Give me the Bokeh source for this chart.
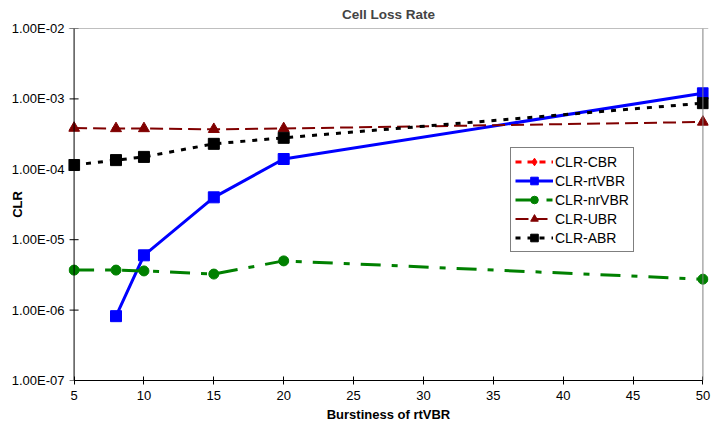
import math
from bokeh.plotting import figure
from bokeh.models import (Range1d, FixedTicker, CustomJSTickFormatter, Legend, Span)
from bokeh.embed import file_html
from bokeh.resources import INLINE

# ---- data ----
burstiness = [5, 8, 10, 15, 20, 50]
clr_cbr = [0, 0, 0, 0, 0, 0]
clr_rtvbr = [None, 8.2e-7, 6.0e-6, 4.0e-5, 1.4e-4, 1.2e-3]
clr_nrvbr = [3.7e-6, 3.7e-6, 3.6e-6, 3.25e-6, 5.0e-6, 2.75e-6]
clr_ubr = [3.85e-4, 3.8e-4, 3.8e-4, 3.7e-4, 3.8e-4, 4.7e-4]
clr_abr = [1.15e-4, 1.35e-4, 1.5e-4, 2.3e-4, 2.8e-4, 8.7e-4]
x_ticks = [5, 10, 15, 20, 25, 30, 35, 40, 45, 50]
y_ticks = [1e-7, 1e-6, 1e-5, 1e-4, 1e-3, 1e-2]
x_min, x_max = 5, 50
y_min, y_max = 1e-7, 1e-2

FONT = "Liberation Sans"


def clean(vals):
    return [float("nan") if (v is None or v <= 0) else v for v in vals]


p = figure(width=713, height=427, output_backend="svg", toolbar_location=None,
           y_axis_type="log",
           x_range=Range1d(x_min - 0.4, x_max + 0.4), y_range=Range1d(y_min, y_max),
           frame_width=640, frame_height=352,
           min_border_left=68, min_border_right=5, min_border_top=28, min_border_bottom=47,
           title="Cell Loss Rate")
p.outline_line_color = None
p.xgrid.visible = False
p.ygrid.visible = False
p.background_fill_color = "white"
p.border_fill_color = "white"

p.title.align = "center"
p.title.vertical_align = "top"
p.title.text_font = FONT
p.title.text_font_size = "13.5px"
p.title.text_font_style = "bold"
p.title.offset = 0
p.title.standoff = 10

# frame lines (top/right grey)
p.add_layout(Span(location=x_max, dimension="height", line_color="#808080", line_width=1))
p.add_layout(Span(location=y_max, dimension="width", line_color="#808080", line_width=1))

# axes
xa = p.xaxis[0]
xa.ticker = FixedTicker(ticks=x_ticks)
xa.bounds = (x_min, x_max)
xa.axis_label = "Burstiness of rtVBR"
ya = p.yaxis[0]
ya.ticker = FixedTicker(ticks=y_ticks)
ya.axis_label = "CLR"
ya.formatter = CustomJSTickFormatter(code="""
const e = Math.round(Math.log10(tick));
const s = e < 0 ? '-' : '+';
const a = Math.abs(e);
return '1.00E' + s + (a < 10 ? '0' : '') + a;
""")
for ax in (xa, ya):
    ax.axis_line_color = "black"
    ax.major_tick_line_color = "black"
    ax.major_tick_in = 4
    ax.major_tick_out = 4
    ax.minor_tick_line_color = None
    ax.major_label_text_font = FONT
    ax.major_label_text_font_size = "13px"
    ax.major_label_text_color = "black"
    ax.axis_label_text_font = FONT
    ax.axis_label_text_font_size = "13px"
    ax.axis_label_text_font_style = "bold"
    ax.axis_label_text_color = "black"
xa.major_label_standoff = 6
xa.axis_label_standoff = 4
# y axis: labels at the panel edge, line + ticks drawn at x = 5
ya.axis_line_color = None
ya.major_tick_line_color = None
ya.major_tick_in = 0
ya.major_tick_out = 0
ya.major_label_standoff = 4
ya.axis_label_standoff = -16

p.add_layout(Span(location=x_min, dimension="height", line_color="black", line_width=1))
p.scatter([x_min] * len(y_ticks), y_ticks, marker="dash", size=9,
          line_color="black", line_width=1)

series = [
    ("CLR-CBR", clr_cbr, "#FF0000", "diamond", 12, "dashed", 3),
    ("CLR-rtVBR", clr_rtvbr, "#0000FF", "square", 11, "solid", 3),
    ("CLR-nrVBR", clr_nrvbr, "#008000", "circle", 10, "20 11 6 11", 3),
    ("CLR-UBR", clr_ubr, "#800000", "triangle", 11, "13 6", 2),
    ("CLR-ABR", clr_abr, "black", "square", 11, "5 7", 3),
]
items = []
for name, vals, color, marker, size, dash, lw in series:
    ys = clean(vals)
    pts = [(x, y) for x, y in zip(burstiness, ys) if not math.isnan(y)]
    lx = [a for a, _ in pts] if pts else [float("nan")]
    ly = [b for _, b in pts] if pts else [float("nan")]
    r1 = p.line(lx, ly, line_color=color, line_width=lw, line_dash=dash)
    r2 = p.scatter(lx, ly, marker=marker, size=size, fill_color=color, line_color=color)
    items.append((name, [r1, r2]))

legend = Legend(items=items, location=(442, 128))
legend.border_line_color = "black"
legend.border_line_width = 1
legend.background_fill_color = "white"
legend.background_fill_alpha = 1
legend.label_text_font = FONT
legend.label_text_font_size = "14px"
legend.label_text_color = "black"
legend.padding = 4
legend.spacing = 0
legend.margin = 0
legend.label_height = 19
legend.glyph_height = 19
legend.glyph_width = 38
legend.label_standoff = 2
p.add_layout(legend)

open("out.html", "w").write(file_html(p, INLINE))
